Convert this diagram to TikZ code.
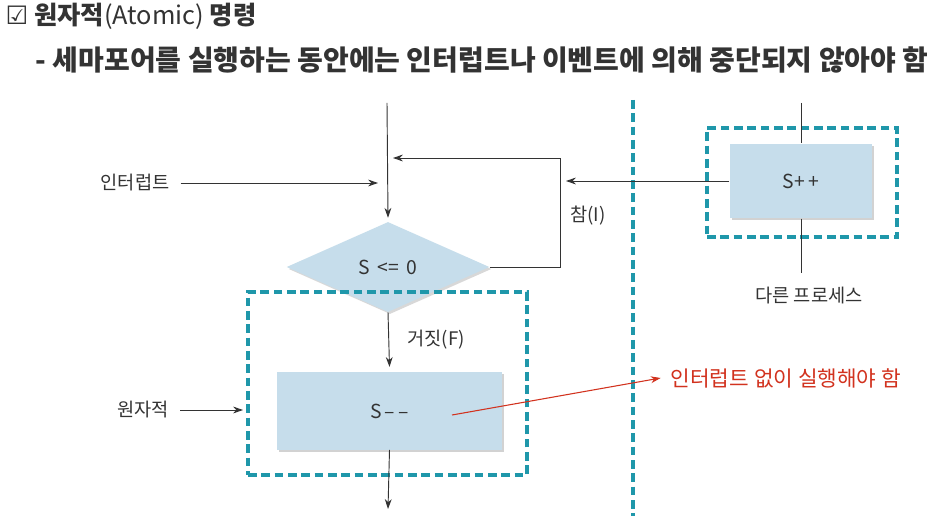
\documentclass[tikz,border=0pt]{standalone}
\usepackage{fontspec}
\setmainfont{Noto Sans CJK KR}
\newfontfamily\symfont{DejaVu Sans}
\usepackage{tikz}
\usetikzlibrary{positioning}
\usetikzlibrary{arrows.meta,shapes.geometric}
\usetikzlibrary{shadows}
\definecolor{boxblue}{HTML}{C6DDEB}
\definecolor{dashteal}{HTML}{1F97AA}
\definecolor{linegray}{HTML}{333333}
\definecolor{notered}{HTML}{D2321E}

\begin{document}
\begin{tikzpicture}[
  x=0.75pt, y=-0.75pt,
  >=Stealth,
  every node/.style={font=\fontsize{14}{16}\selectfont, text=linegray},
  proc/.style={rectangle, fill=boxblue, inner sep=0pt,
    drop shadow={shadow xshift=1.5pt, shadow yshift=-1.5pt, opacity=0.35}},
  cond/.style={diamond, fill=boxblue, inner sep=0pt,
    drop shadow={shadow xshift=1.5pt, shadow yshift=-1.5pt, opacity=0.3}},
  dashbox/.style={rectangle, draw=dashteal, line width=2.5pt, dash pattern=on 6.5pt off 3.5pt, inner sep=0pt},
  divider/.style={draw=dashteal, line width=2.5pt, dash pattern=on 6.5pt off 3.5pt},
  wire/.style={draw=linegray, line width=0.7pt},
  msg/.style={-{Stealth[length=2.6mm,width=1.8mm]}, draw=linegray, line width=0.7pt},
  note/.style={-{Stealth[length=2.6mm,width=1.8mm]}, draw=notered, line width=0.8pt}
]
\useasboundingbox[fill=white] (0,0) rectangle (927,523);

% ---------- Heading ----------
\node[anchor=west, font=\fontsize{19}{22}\selectfont] (head) at (1,16)
  {{\symfont ☑} \textbf{원자적}(Atomic) \textbf{명령}};
\node[anchor=west, font=\bfseries\fontsize{21}{24}\selectfont] (sub) at (31,60)
  {- 세마포어를 실행하는 동안에는 인터럽트나 이벤트에 의해 중단되지 않아야 함};

% ---------- Flow (left process) ----------
\coordinate (start) at (387,103);
\node[cond, minimum width=152pt, minimum height=67.5pt, font=\fontsize{14.5}{16}\selectfont] (test) at (388,267) {S \,<=\, 0};
\node[proc, minimum width=168.75pt, minimum height=57.75pt, font=\fontsize{14.5}{16}\selectfont] (dec) at (389.5,411) {S\,–\,–};
\node[dashbox, minimum width=209.25pt, minimum height=137.25pt] (atom) at (387.5,383.5) {};

\coordinate (looptop) at (560,158);
\coordinate (looptip) at (393,158);
\coordinate (intrtip) at (378,183);
\coordinate (atomtip) at (243,410);
\coordinate (finish) at (388,509);

\draw[msg] (start) -- ([yshift=3pt]test.north);
\draw[msg] (test.east) -| (looptop) -- (looptip);
\draw[msg] (test.south) -- ([yshift=4pt]dec.north);
\draw[msg] (dec.south) -- (finish);

\node (intr) at (135,183) {인터럽트};
\draw[msg] ([xshift=5pt]intr.east) -- (intrtip);
\node (atomlbl) at (143,410) {원자적};
\draw[msg] ([xshift=5pt]atomlbl.east) -- (atomtip);

\node (false) at (436,340) {거짓(F)};
\node (true) at (588,216) {참(I)};

% ---------- Divider ----------
\coordinate (divtop) at (633,100);
\coordinate (divbot) at (633,516);
\draw[divider] (divtop) -- (divbot);

% ---------- Other process ----------
\node[dashbox, minimum width=142.5pt, minimum height=81.75pt] (procbox) at (802,182.5) {};
\node[proc, minimum width=107pt, minimum height=56pt, font=\fontsize{14.5}{16}\selectfont] (inc) at (801,181) {S+\,+};
\coordinate (ptop) at (801,103);
\coordinate (pbot) at (801,273);
\coordinate (inctip) at (566,181);
\draw[wire] (ptop) -- (inc.north);
\draw[wire] (inc.south) -- (pbot);
\draw[msg] (inc.west) -- (inctip);
\node (other) at (809,296) {다른 프로세스};

% ---------- Remark ----------
\coordinate (remfrom) at (452,415);
\node[anchor=west, text=notered, font=\fontsize{16}{18}\selectfont] (remark) at (666,378) {인터럽트 없이 실행해야 함};
\draw[note] (remfrom) -- ([xshift=-4pt]remark.west);

\end{tikzpicture}
\end{document}
